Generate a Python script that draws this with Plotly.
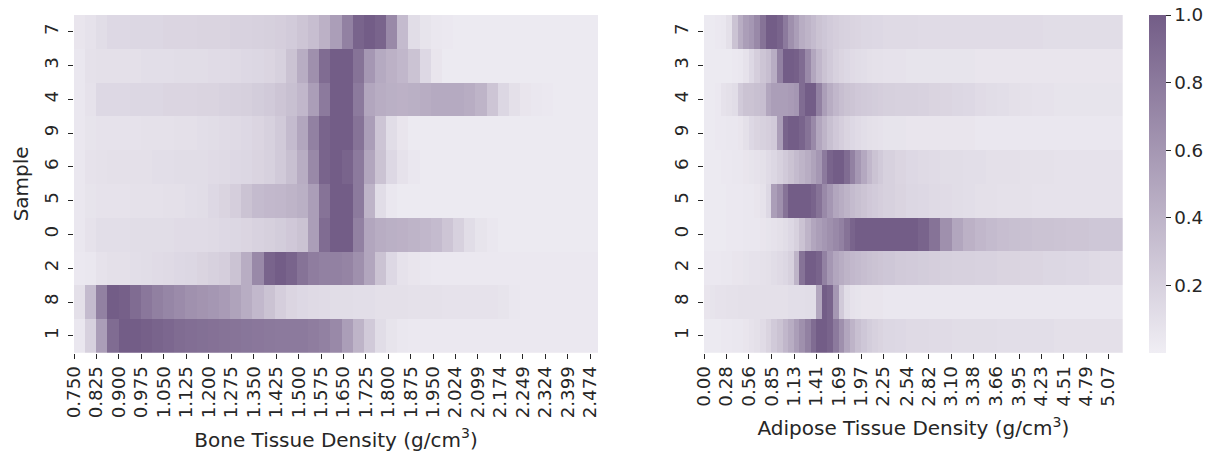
import numpy as np
import plotly.graph_objects as go

samples = ["7", "3", "4", "9", "6", "5", "0", "2", "8", "1"]

bone_ticks = ["0.750", "0.825", "0.900", "0.975", "1.050", "1.125", "1.200", "1.275",
              "1.350", "1.425", "1.500", "1.575", "1.650", "1.725", "1.800", "1.875",
              "1.950", "2.024", "2.099", "2.174", "2.249", "2.324", "2.399", "2.474"]
adipose_ticks = ["0.00", "0.28", "0.56", "0.85", "1.13", "1.41", "1.69", "1.97", "2.25",
                 "2.54", "2.82", "3.10", "3.38", "3.66", "3.95", "4.23", "4.51", "4.79", "5.07"]

# density bin edges (categories of the heatmap columns)
bone_edges = np.linspace(0.75, 2.5, 48)
adipose_edges = np.concatenate([np.linspace(0, 2.25, 33), np.linspace(2.25, 5.25, 22)[1:]])

# normalised density per sample (rows top -> bottom), bone tissue, 47 bins
bone_7 = [0.06, 0.08, 0.12, 0.15, 0.15, 0.16, 0.16, 0.16, 0.17, 0.17, 0.17, 0.18, 0.18, 0.18, 0.19, 0.19,
          0.20, 0.21, 0.22, 0.24, 0.28, 0.33, 0.42, 0.55, 0.75, 0.95, 1.00, 0.95, 0.70, 0.35, 0.12, 0.07,
          0.05, 0.04, 0.03, 0.03, 0.03, 0.03, 0.03, 0.03, 0.03, 0.03, 0.03, 0.03, 0.03, 0.03, 0.03]
bone_3 = [0.05, 0.09, 0.10, 0.10, 0.10, 0.10, 0.11, 0.11, 0.11, 0.12, 0.12, 0.12, 0.13, 0.13, 0.14, 0.15,
          0.16, 0.17, 0.20, 0.30, 0.45, 0.65, 0.90, 1.00, 1.00, 0.85, 0.60, 0.47, 0.42, 0.38, 0.30, 0.15,
          0.06, 0.03, 0.03, 0.03, 0.03, 0.03, 0.03, 0.03, 0.03, 0.03, 0.03, 0.03, 0.03, 0.03, 0.03]
bone_4 = [0.05, 0.08, 0.15, 0.15, 0.15, 0.16, 0.16, 0.16, 0.17, 0.17, 0.17, 0.18, 0.18, 0.19, 0.20, 0.21,
          0.23, 0.25, 0.28, 0.32, 0.38, 0.55, 0.80, 1.00, 1.00, 0.80, 0.50, 0.45, 0.43, 0.42, 0.43, 0.45,
          0.47, 0.47, 0.47, 0.45, 0.40, 0.28, 0.16, 0.10, 0.06, 0.05, 0.04, 0.03, 0.03, 0.03, 0.03]
bone_9 = [0.05, 0.07, 0.08, 0.08, 0.08, 0.08, 0.09, 0.09, 0.09, 0.10, 0.10, 0.11, 0.12, 0.13, 0.14, 0.15,
          0.17, 0.20, 0.25, 0.35, 0.50, 0.75, 0.95, 1.00, 1.00, 0.85, 0.55, 0.28, 0.12, 0.06, 0.03, 0.03,
          0.03, 0.03, 0.03, 0.03, 0.03, 0.03, 0.03, 0.03, 0.03, 0.03, 0.03, 0.03, 0.03, 0.03, 0.03]
bone_6 = [0.05, 0.08, 0.09, 0.10, 0.10, 0.10, 0.10, 0.11, 0.11, 0.12, 0.12, 0.12, 0.13, 0.14, 0.15, 0.16,
          0.18, 0.20, 0.25, 0.32, 0.45, 0.70, 0.95, 1.00, 0.95, 0.80, 0.50, 0.30, 0.15, 0.08, 0.05, 0.03,
          0.03, 0.03, 0.03, 0.03, 0.03, 0.03, 0.03, 0.03, 0.03, 0.03, 0.03, 0.03, 0.03, 0.03, 0.03]
bone_5 = [0.05, 0.07, 0.08, 0.08, 0.08, 0.09, 0.09, 0.09, 0.10, 0.10, 0.11, 0.12, 0.15, 0.18, 0.22, 0.30,
          0.35, 0.37, 0.38, 0.40, 0.43, 0.55, 0.85, 1.00, 1.00, 0.80, 0.40, 0.12, 0.05, 0.03, 0.03, 0.03,
          0.03, 0.03, 0.03, 0.03, 0.03, 0.03, 0.03, 0.03, 0.03, 0.03, 0.03, 0.03, 0.03, 0.03, 0.03]
bone_0 = [0.05, 0.08, 0.11, 0.11, 0.11, 0.12, 0.12, 0.12, 0.12, 0.13, 0.13, 0.13, 0.14, 0.15, 0.16, 0.17,
          0.19, 0.21, 0.23, 0.26, 0.30, 0.55, 0.90, 1.00, 1.00, 0.75, 0.50, 0.45, 0.43, 0.42, 0.40, 0.38,
          0.35, 0.28, 0.20, 0.12, 0.07, 0.05, 0.03, 0.03, 0.03, 0.03, 0.03, 0.03, 0.03, 0.03, 0.03]
bone_2 = [0.04, 0.05, 0.08, 0.10, 0.10, 0.11, 0.12, 0.13, 0.14, 0.15, 0.16, 0.18, 0.20, 0.22, 0.30, 0.45,
          0.70, 0.95, 1.00, 0.95, 0.85, 0.78, 0.75, 0.75, 0.73, 0.65, 0.50, 0.30, 0.15, 0.08, 0.06, 0.05,
          0.04, 0.04, 0.04, 0.04, 0.04, 0.04, 0.04, 0.04, 0.04, 0.04, 0.04, 0.04, 0.04, 0.04, 0.04]
bone_8 = [0.10, 0.35, 0.75, 1.00, 0.98, 0.90, 0.82, 0.76, 0.72, 0.68, 0.64, 0.62, 0.60, 0.57, 0.52, 0.45,
          0.37, 0.30, 0.22, 0.17, 0.15, 0.14, 0.13, 0.12, 0.12, 0.11, 0.11, 0.10, 0.10, 0.10, 0.09, 0.09,
          0.09, 0.08, 0.08, 0.08, 0.08, 0.08, 0.07, 0.05, 0.04, 0.04, 0.04, 0.04, 0.04, 0.04, 0.04]
bone_1 = [0.05, 0.20, 0.55, 0.90, 1.00, 1.00, 0.98, 0.95, 0.93, 0.90, 0.88, 0.87, 0.86, 0.85, 0.84, 0.83,
          0.82, 0.81, 0.80, 0.80, 0.80, 0.78, 0.75, 0.70, 0.55, 0.40, 0.25, 0.12, 0.07, 0.05, 0.04, 0.04,
          0.04, 0.04, 0.04, 0.04, 0.04, 0.04, 0.04, 0.04, 0.04, 0.04, 0.04, 0.04, 0.04, 0.04, 0.04]

# adipose tissue, 53 bins
adipose_7 = [0.03, 0.03, 0.04, 0.05, 0.10, 0.30, 0.45, 0.55, 0.60, 0.70, 0.85, 1.00, 1.00, 0.95, 0.80, 0.65,
             0.55, 0.45, 0.40, 0.35, 0.30, 0.27, 0.24, 0.22, 0.20, 0.19, 0.18, 0.17, 0.16, 0.16, 0.15, 0.15,
             0.14, 0.14, 0.14, 0.13, 0.13, 0.13, 0.13, 0.13, 0.13, 0.13, 0.13, 0.13, 0.13, 0.13, 0.12, 0.12,
             0.12, 0.12, 0.12, 0.12, 0.12]
adipose_3 = [0.03, 0.03, 0.03, 0.03, 0.03, 0.04, 0.05, 0.08, 0.15, 0.22, 0.28, 0.33, 0.45, 0.75, 1.00, 1.00,
             0.98, 0.90, 0.70, 0.50, 0.38, 0.30, 0.25, 0.20, 0.17, 0.15, 0.13, 0.12, 0.11, 0.10, 0.09, 0.09,
             0.08, 0.08, 0.07, 0.07, 0.07, 0.07, 0.07, 0.07, 0.06, 0.06, 0.06, 0.06, 0.06, 0.06, 0.06, 0.06,
             0.06, 0.06, 0.06, 0.06, 0.06]
adipose_4 = [0.03, 0.03, 0.04, 0.08, 0.10, 0.12, 0.25, 0.30, 0.30, 0.32, 0.33, 0.50, 0.55, 0.55, 0.55, 0.57,
             0.60, 0.90, 1.00, 1.00, 0.75, 0.55, 0.45, 0.38, 0.33, 0.30, 0.28, 0.26, 0.25, 0.24, 0.23, 0.22,
             0.21, 0.20, 0.20, 0.19, 0.18, 0.17, 0.16, 0.15, 0.13, 0.12, 0.11, 0.10, 0.09, 0.08, 0.08, 0.07,
             0.07, 0.07, 0.07, 0.07, 0.07]
adipose_9 = [0.03, 0.03, 0.04, 0.04, 0.05, 0.05, 0.06, 0.10, 0.15, 0.18, 0.20, 0.22, 0.25, 0.55, 0.95, 1.00,
             1.00, 0.95, 0.85, 0.70, 0.50, 0.40, 0.32, 0.26, 0.22, 0.18, 0.15, 0.13, 0.11, 0.10, 0.09, 0.08,
             0.07, 0.07, 0.06, 0.06, 0.06, 0.06, 0.06, 0.06, 0.05, 0.05, 0.05, 0.05, 0.05, 0.05, 0.05, 0.05,
             0.05, 0.05, 0.05, 0.05, 0.05]
adipose_6 = [0.03, 0.03, 0.03, 0.04, 0.04, 0.05, 0.05, 0.06, 0.07, 0.08, 0.10, 0.13, 0.16, 0.20, 0.25, 0.30,
             0.35, 0.40, 0.45, 0.52, 0.60, 0.80, 0.95, 1.00, 1.00, 0.90, 0.75, 0.60, 0.48, 0.38, 0.30, 0.25,
             0.20, 0.17, 0.15, 0.14, 0.13, 0.12, 0.12, 0.11, 0.11, 0.10, 0.10, 0.10, 0.09, 0.09, 0.09, 0.08,
             0.08, 0.08, 0.08, 0.08, 0.08]
adipose_5 = [0.03, 0.03, 0.03, 0.03, 0.04, 0.04, 0.04, 0.05, 0.05, 0.06, 0.08, 0.15, 0.55, 0.65, 0.85, 1.00,
             1.00, 1.00, 1.00, 0.95, 0.85, 0.70, 0.60, 0.50, 0.45, 0.40, 0.35, 0.32, 0.29, 0.26, 0.24, 0.22,
             0.20, 0.18, 0.16, 0.15, 0.14, 0.13, 0.12, 0.11, 0.10, 0.10, 0.09, 0.09, 0.09, 0.08, 0.08, 0.08,
             0.08, 0.08, 0.08, 0.08, 0.08]
adipose_0 = [0.03, 0.03, 0.03, 0.03, 0.04, 0.04, 0.04, 0.05, 0.05, 0.05, 0.06, 0.07, 0.08, 0.10, 0.12, 0.15,
             0.20, 0.30, 0.40, 0.50, 0.55, 0.60, 0.65, 0.70, 0.75, 0.85, 0.95, 1.00, 1.00, 1.00, 1.00, 1.00,
             1.00, 1.00, 1.00, 0.95, 0.85, 0.65, 0.50, 0.42, 0.38, 0.35, 0.33, 0.32, 0.31, 0.30, 0.30, 0.29,
             0.28, 0.28, 0.27, 0.27, 0.27]
adipose_2 = [0.04, 0.04, 0.04, 0.05, 0.05, 0.06, 0.06, 0.07, 0.08, 0.08, 0.09, 0.10, 0.12, 0.14, 0.16, 0.20,
             0.40, 0.85, 1.00, 1.00, 0.95, 0.75, 0.60, 0.50, 0.45, 0.40, 0.37, 0.35, 0.33, 0.31, 0.30, 0.28,
             0.27, 0.25, 0.24, 0.23, 0.22, 0.21, 0.20, 0.20, 0.19, 0.19, 0.18, 0.18, 0.17, 0.17, 0.16, 0.16,
             0.15, 0.15, 0.14, 0.13, 0.13]
adipose_8 = [0.06, 0.07, 0.08, 0.08, 0.09, 0.09, 0.10, 0.10, 0.10, 0.10, 0.10, 0.10, 0.10, 0.10, 0.10, 0.11,
             0.11, 0.11, 0.12, 0.12, 0.50, 1.00, 0.95, 0.60, 0.25, 0.12, 0.08, 0.07, 0.06, 0.06, 0.06, 0.06,
             0.05, 0.05, 0.05, 0.05, 0.05, 0.05, 0.05, 0.05, 0.05, 0.05, 0.05, 0.05, 0.05, 0.05, 0.05, 0.05,
             0.05, 0.05, 0.05, 0.05, 0.05]
adipose_1 = [0.03, 0.03, 0.03, 0.04, 0.04, 0.05, 0.05, 0.06, 0.08, 0.10, 0.13, 0.18, 0.25, 0.30, 0.38, 0.45,
             0.55, 0.65, 0.75, 0.90, 1.00, 1.00, 0.95, 0.80, 0.65, 0.50, 0.40, 0.32, 0.27, 0.23, 0.20, 0.18,
             0.16, 0.15, 0.14, 0.14, 0.13, 0.13, 0.12, 0.12, 0.12, 0.12, 0.11, 0.11, 0.11, 0.11, 0.11, 0.10,
             0.10, 0.10, 0.10, 0.10, 0.10]

bone_z = [bone_7, bone_3, bone_4, bone_9, bone_6, bone_5, bone_0, bone_2, bone_8, bone_1]
adipose_z = [adipose_7, adipose_3, adipose_4, adipose_9, adipose_6, adipose_5, adipose_0,
             adipose_2, adipose_8, adipose_1]

W, H = 1214, 460
FONT = "DejaVu Sans"
TXT = "#262626"
FS = 18.3      # tick labels
FT = 20        # axis titles
cscale = [[0, "#f0eef4"], [1, "#735d87"]]

fig = go.Figure()
fig.add_trace(go.Heatmap(z=bone_z, x=bone_edges, y=samples, colorscale=cscale, zmin=0, zmax=1,
                         xaxis="x", yaxis="y", showscale=False))
fig.add_trace(go.Heatmap(z=adipose_z, x=adipose_edges, y=samples, colorscale=cscale, zmin=0, zmax=1,
                         xaxis="x2", yaxis="y2", showscale=True,
                         colorbar=dict(x=1149 / W, xanchor="left", xpad=0, thickness=17,
                                       len=337.7, lenmode="pixels", y=1 - 15 / H, yanchor="top", ypad=0,
                                       outlinewidth=0, ticks="outside", ticklen=5, tickwidth=1.2,
                                       tickcolor=TXT, tickvals=[0.2, 0.4, 0.6, 0.8, 1.0],
                                       ticktext=["0.2", "0.4", "0.6", "0.8", "1.0"],
                                       tickfont=dict(family=FONT, size=FS, color=TXT))))

ydom = [1 - 352.7 / H, 1 - 15 / H]
common_x = dict(showgrid=False, zeroline=False, showline=False, ticks="outside", ticklen=5,
                tickwidth=1.2, tickcolor=TXT, tickangle=-90, automargin=False,
                tickfont=dict(family=FONT, size=FS, color=TXT))
common_y = dict(showgrid=False, zeroline=False, showline=False, ticks="outside", ticklen=5,
                tickwidth=1.2, tickcolor=TXT, tickangle=-90, type="category", autorange="reversed",
                automargin=False, ticklabelstandoff=3,
                tickfont=dict(family=FONT, size=FS, color=TXT), domain=ydom)

fig.update_layout(
    width=W, height=H, margin=dict(l=0, r=0, t=0, b=0),
    paper_bgcolor="white", plot_bgcolor="white",
    xaxis=dict(common_x, domain=[74 / W, 598 / W], range=[0.75, 2.5],
               tickvals=[float(t) for t in bone_ticks], ticktext=bone_ticks,
               title=dict(text="Bone Tissue Density (g/cm<sup>3</sup>)", standoff=15,
                          font=dict(family=FONT, size=FT, color=TXT))),
    yaxis=dict(common_y, anchor="x",
               title=dict(text="Sample", standoff=6, font=dict(family=FONT, size=FT, color=TXT))),
    xaxis2=dict(common_x, domain=[704 / W, 1122.7 / W], range=[0, 5.25], anchor="y2",
                tickvals=[float(t) for t in adipose_ticks], ticktext=adipose_ticks,
                title=dict(text="Adipose Tissue Density (g/cm<sup>3</sup>)", standoff=15,
                           font=dict(family=FONT, size=FT, color=TXT))),
    yaxis2=dict(common_y, anchor="x2"),
)

fig.write_html("out.html")
